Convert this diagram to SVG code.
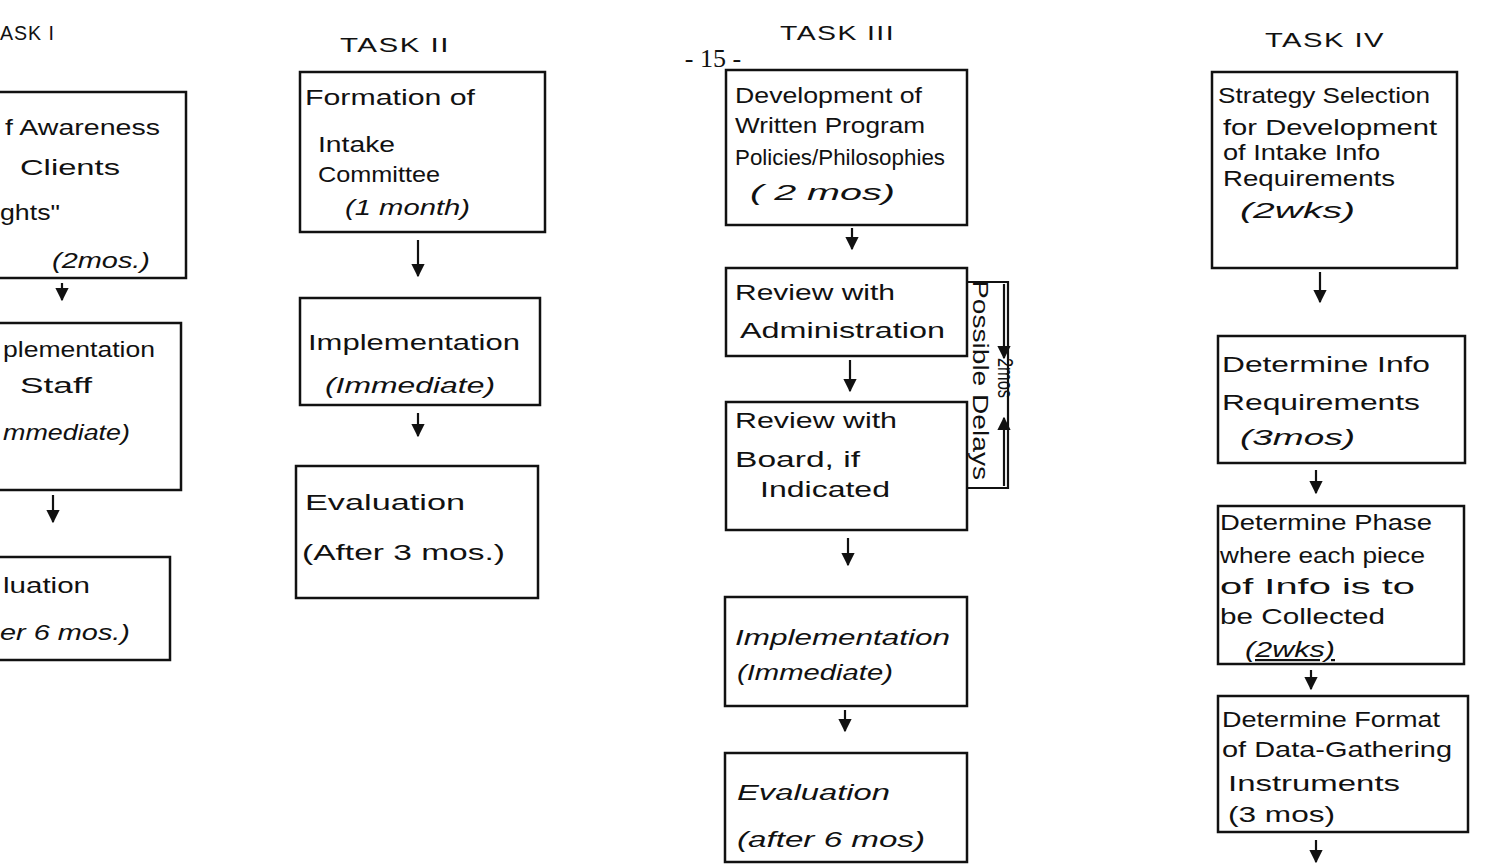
<svg xmlns="http://www.w3.org/2000/svg" width="1485" height="866" viewBox="0 0 1485 866">
<style>
.box{fill:none;stroke:#111;stroke-width:2.5}
.t{font-family:"Liberation Sans",Arial,sans-serif;font-size:22px;fill:#111}
.i{font-style:italic}
.h{font-family:"Liberation Sans",Arial,sans-serif;font-size:20px;fill:#111;letter-spacing:1px}
.pg{font-family:"Liberation Serif","Times New Roman",serif;font-size:26px;fill:#111}
.c{fill:none;stroke:#111;stroke-width:2.2}
</style>
<defs>
<marker id="ah" viewBox="0 0 10 10" refX="9" refY="5" markerWidth="6" markerHeight="6" orient="auto">
<path d="M0,0 L10,5 L0,10 z" fill="#111"/>
</marker>
</defs>
<rect width="1485" height="866" fill="#fff"/>

<text class="pg" x="713" y="67" text-anchor="middle">- 15 -</text>

<g id="headers">
<text class="h" x="0" y="40" textLength="55" lengthAdjust="spacingAndGlyphs">ASK I</text>
<text class="h" x="340" y="52" textLength="110" lengthAdjust="spacingAndGlyphs">TASK II</text>
<text class="h" x="780" y="40" textLength="115" lengthAdjust="spacingAndGlyphs">TASK III</text>
<text class="h" x="1265" y="47" textLength="120" lengthAdjust="spacingAndGlyphs">TASK IV</text>
</g>

<g id="t1-n1">
<rect class="box" x="-5" y="92" width="191" height="186"/>
<text class="t" x="5" y="135" textLength="155" lengthAdjust="spacingAndGlyphs">f Awareness</text>
<text class="t" x="20" y="175" font-size="26" textLength="100" lengthAdjust="spacingAndGlyphs">Clients</text>
<text class="t" x="0" y="220" font-size="26" textLength="60" lengthAdjust="spacingAndGlyphs">ghts"</text>
<text class="t i" x="52" y="268" textLength="98" lengthAdjust="spacingAndGlyphs">(2mos.)</text>
</g>
<g id="t1-n2">
<rect class="box" x="-5" y="323" width="186" height="167"/>
<text class="t" x="3" y="357" textLength="152" lengthAdjust="spacingAndGlyphs">plementation</text>
<text class="t" x="20" y="393" textLength="72" lengthAdjust="spacingAndGlyphs">Staff</text>
<text class="t i" x="3" y="440" textLength="127" lengthAdjust="spacingAndGlyphs">mmediate)</text>
</g>
<g id="t1-n3">
<rect class="box" x="-5" y="557" width="175" height="103"/>
<text class="t" x="3" y="593" textLength="87" lengthAdjust="spacingAndGlyphs">luation</text>
<text class="t i" x="0" y="640" textLength="130" lengthAdjust="spacingAndGlyphs">er 6 mos.)</text>
</g>

<g id="t2-n1">
<rect class="box" x="300" y="72" width="245" height="160"/>
<text class="t" x="305" y="105" textLength="170" lengthAdjust="spacingAndGlyphs">Formation of</text>
<text class="t" x="318" y="152" textLength="77" lengthAdjust="spacingAndGlyphs">Intake</text>
<text class="t" x="318" y="182" textLength="122" lengthAdjust="spacingAndGlyphs">Committee</text>
<text class="t i" x="345" y="215" textLength="125" lengthAdjust="spacingAndGlyphs">(1 month)</text>
</g>
<g id="t2-n2">
<rect class="box" x="300" y="298" width="240" height="107"/>
<text class="t" x="308" y="350" font-size="26" textLength="212" lengthAdjust="spacingAndGlyphs">Implementation</text>
<text class="t i" x="325" y="393" font-size="26" textLength="170" lengthAdjust="spacingAndGlyphs">(Immediate)</text>
</g>
<g id="t2-n3">
<rect class="box" x="296" y="466" width="242" height="132"/>
<text class="t" x="305" y="510" font-size="26" textLength="160" lengthAdjust="spacingAndGlyphs">Evaluation</text>
<text class="t" x="302" y="560" font-size="26" textLength="203" lengthAdjust="spacingAndGlyphs">(After 3 mos.)</text>
</g>

<g id="t3-n1">
<rect class="box" x="726" y="70" width="241" height="155"/>
<text class="t" x="735" y="103" textLength="187" lengthAdjust="spacingAndGlyphs">Development of</text>
<text class="t" x="735" y="133" textLength="190" lengthAdjust="spacingAndGlyphs">Written Program</text>
<text class="t" x="735" y="165" textLength="210" lengthAdjust="spacingAndGlyphs">Policies/Philosophies</text>
<text class="t i" x="750" y="200" font-size="25" textLength="145" lengthAdjust="spacingAndGlyphs">( 2 mos)</text>
</g>
<g id="t3-n2">
<rect class="box" x="726" y="268" width="241" height="88"/>
<text class="t" x="735" y="300" font-size="25" textLength="160" lengthAdjust="spacingAndGlyphs">Review with</text>
<text class="t" x="740" y="338" font-size="25" textLength="205" lengthAdjust="spacingAndGlyphs">Administration</text>
</g>
<g id="t3-n3">
<rect class="box" x="726" y="402" width="241" height="128"/>
<text class="t" x="735" y="428" font-size="25" textLength="162" lengthAdjust="spacingAndGlyphs">Review with</text>
<text class="t" x="735" y="467" font-size="25" textLength="125" lengthAdjust="spacingAndGlyphs">Board, if</text>
<text class="t" x="760" y="497" font-size="25" textLength="130" lengthAdjust="spacingAndGlyphs">Indicated</text>
</g>
<g id="t3-n4">
<rect class="box" x="725" y="597" width="242" height="109"/>
<text class="t i" x="735" y="645" font-size="25" textLength="215" lengthAdjust="spacingAndGlyphs">Implementation</text>
<text class="t i" x="737" y="680" font-size="25" textLength="156" lengthAdjust="spacingAndGlyphs">(Immediate)</text>
</g>
<g id="t3-n5">
<rect class="box" x="725" y="753" width="242" height="109"/>
<text class="t i" x="737" y="800" font-size="25" textLength="153" lengthAdjust="spacingAndGlyphs">Evaluation</text>
<text class="t i" x="737" y="847" font-size="25" textLength="188" lengthAdjust="spacingAndGlyphs">(after 6 mos)</text>
</g>

<g id="t3-delays">
<text class="t" transform="translate(973,280) rotate(90)" font-size="20" textLength="200" lengthAdjust="spacingAndGlyphs">Possible Delays</text>
<text class="t" transform="translate(998,358) rotate(90)" font-size="18" textLength="40" lengthAdjust="spacingAndGlyphs">2mos</text>
</g>

<g id="t4-n1">
<rect class="box" x="1212" y="72" width="245" height="196"/>
<text class="t" x="1218" y="103" textLength="212" lengthAdjust="spacingAndGlyphs">Strategy Selection</text>
<text class="t" x="1223" y="135" textLength="214" lengthAdjust="spacingAndGlyphs">for Development</text>
<text class="t" x="1223" y="160" textLength="157" lengthAdjust="spacingAndGlyphs">of Intake Info</text>
<text class="t" x="1223" y="186" textLength="172" lengthAdjust="spacingAndGlyphs">Requirements</text>
<text class="t i" x="1240" y="218" textLength="115" lengthAdjust="spacingAndGlyphs">(2wks)</text>
</g>
<g id="t4-n2">
<rect class="box" x="1218" y="336" width="247" height="127"/>
<text class="t" x="1222" y="372" font-size="25" textLength="208" lengthAdjust="spacingAndGlyphs">Determine Info</text>
<text class="t" x="1222" y="410" font-size="25" textLength="198" lengthAdjust="spacingAndGlyphs">Requirements</text>
<text class="t i" x="1240" y="445" font-size="25" textLength="115" lengthAdjust="spacingAndGlyphs">(3mos)</text>
</g>
<g id="t4-n3">
<rect class="box" x="1218" y="506" width="246" height="158"/>
<text class="t" x="1220" y="530" textLength="212" lengthAdjust="spacingAndGlyphs">Determine Phase</text>
<text class="t" x="1220" y="563" textLength="205" lengthAdjust="spacingAndGlyphs">where each piece</text>
<text class="t" x="1220" y="594" textLength="195" lengthAdjust="spacingAndGlyphs">of Info is to</text>
<text class="t" x="1220" y="624" textLength="165" lengthAdjust="spacingAndGlyphs">be Collected</text>
<text class="t i" x="1245" y="657" text-decoration="underline" textLength="90" lengthAdjust="spacingAndGlyphs">(2wks)</text>
</g>
<g id="t4-n4">
<rect class="box" x="1218" y="696" width="250" height="136"/>
<text class="t" x="1222" y="727" textLength="218" lengthAdjust="spacingAndGlyphs">Determine Format</text>
<text class="t" x="1222" y="757" textLength="230" lengthAdjust="spacingAndGlyphs">of Data-Gathering</text>
<text class="t" x="1228" y="791" textLength="172" lengthAdjust="spacingAndGlyphs">Instruments</text>
<text class="t" x="1228" y="822" textLength="107" lengthAdjust="spacingAndGlyphs">(3 mos)</text>
</g>

<g id="connectors">
<line class="c" x1="62" y1="283" x2="62" y2="300" marker-end="url(#ah)"/>
<line class="c" x1="53" y1="495" x2="53" y2="522" marker-end="url(#ah)"/>
<line class="c" x1="418" y1="240" x2="418" y2="276" marker-end="url(#ah)"/>
<line class="c" x1="418" y1="413" x2="418" y2="436" marker-end="url(#ah)"/>
<line class="c" x1="852" y1="228" x2="852" y2="249" marker-end="url(#ah)"/>
<line class="c" x1="850" y1="360" x2="850" y2="391" marker-end="url(#ah)"/>
<line class="c" x1="848" y1="538" x2="848" y2="565" marker-end="url(#ah)"/>
<line class="c" x1="845" y1="710" x2="845" y2="731" marker-end="url(#ah)"/>
<line class="c" x1="1320" y1="272" x2="1320" y2="302" marker-end="url(#ah)"/>
<line class="c" x1="1316" y1="470" x2="1316" y2="493" marker-end="url(#ah)"/>
<line class="c" x1="1311" y1="670" x2="1311" y2="689" marker-end="url(#ah)"/>
<line class="c" x1="1316" y1="840" x2="1316" y2="862" marker-end="url(#ah)"/>
<polyline class="c" points="967,282 1008,282 1008,488 967,488"/>
<line class="c" x1="1004" y1="284" x2="1004" y2="358" marker-end="url(#ah)"/>
<line class="c" x1="1004" y1="486" x2="1004" y2="418" marker-end="url(#ah)"/>
</g>
</svg>
